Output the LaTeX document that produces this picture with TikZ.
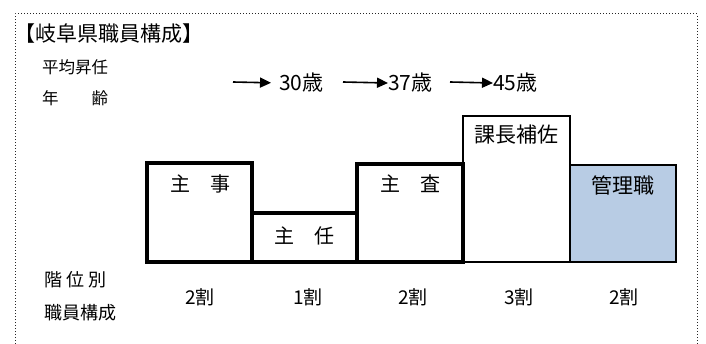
\documentclass[tikz,border=0pt]{standalone}
\usepackage{fontspec}
\setmainfont{Noto Sans CJK JP}
\usepackage{xcolor}
\usetikzlibrary{arrows, arrows.meta}
\definecolor{kanricolor}{RGB}{184,204,228}
\newcommand{\jsize}[1]{\fontsize{#1}{#1}\selectfont}

\begin{document}
\begin{tikzpicture}[x=1pt, y=-1pt, every node/.style={inner sep=0pt},
    framestyle/.style={black!85, line width=1pt, dotted},
    thickbox/.style={line width=3.5pt},
    thinbox/.style={line width=2.2pt},
    boxlabel/.style={font=\jsize{20}},
    agetext/.style={font=\jsize{21}, anchor=west},
    ratiotext/.style={font=\jsize{19}},
    sidetext/.style={anchor=west},
    agearrow/.style={line width=1.6pt, -{Triangle[length=11pt, width=10pt]}}]

    \useasboundingbox (0,0) rectangle (706,344);

    % dotted frame, open at the bottom
    \draw[framestyle] (15,350) -- (15,14) -- (697,14) -- (697,350);

    \node[sidetext, font=\jsize{21}] (title) at (14,34) {【岐阜県職員構成】};
    \node[sidetext, font=\jsize{16.5}] (heikin) at (42,67) {平均昇任};
    \node[sidetext, font=\jsize{16.5}] (nenrei) at (42,98) {年　　齢};

    % ages
    \coordinate (s30) at (233,82);
    \coordinate (s37) at (343,82);
    \coordinate (s45) at (450,82);
    \node[agetext] (age30) at (279,83) {30歳};
    \node[agetext] (age37) at (388,83) {37歳};
    \node[agetext] (age45) at (493,83) {45歳};
    \draw[agearrow, shorten >=8pt] (s30) -- (age30.west);
    \draw[agearrow] (s37) -- (age37.west);
    \draw[agearrow] (s45) -- (age45.west);

    % steps
    \fill[kanricolor] (570,165) rectangle (676,262);
    \draw[thinbox] (463,262) -- (463,116) -- (570,116) -- (570,262);
    \draw[thinbox] (570,165) -- (676,165) -- (676,262) -- (463,262);
    \draw[thickbox] (147,262) -- (147,163) -- (252,163) -- (252,262);
    \draw[thickbox] (252,213) -- (357,213);
    \draw[thickbox] (357,262) -- (357,164) -- (463,164) -- (463,262);
    \draw[thickbox] (145,262) -- (465,262);

    \node[boxlabel] (shuji) at (200,184) {主　事};
    \node[boxlabel] (shunin) at (304,236) {主　任};
    \node[boxlabel] (shusa) at (410,184) {主　査};
    \node[boxlabel, font=\jsize{21}] (kacho) at (516,135) {課長補佐};
    \node[boxlabel, font=\jsize{21}] (kanri) at (623,185) {管理職};

    % ratios
    \node[sidetext, font=\jsize{18}] (kaii) at (44,280) {階 位 別};
    \node[sidetext, font=\jsize{18}] (shokuin) at (44,313) {職員構成};
    \node[ratiotext] (r1) at (200,297) {2割};
    \node[ratiotext] (r2) at (308,297) {1割};
    \node[ratiotext] (r3) at (413,297) {2割};
    \node[ratiotext] (r4) at (519,297) {3割};
    \node[ratiotext] (r5) at (624,297) {2割};

\end{tikzpicture}
\end{document}
